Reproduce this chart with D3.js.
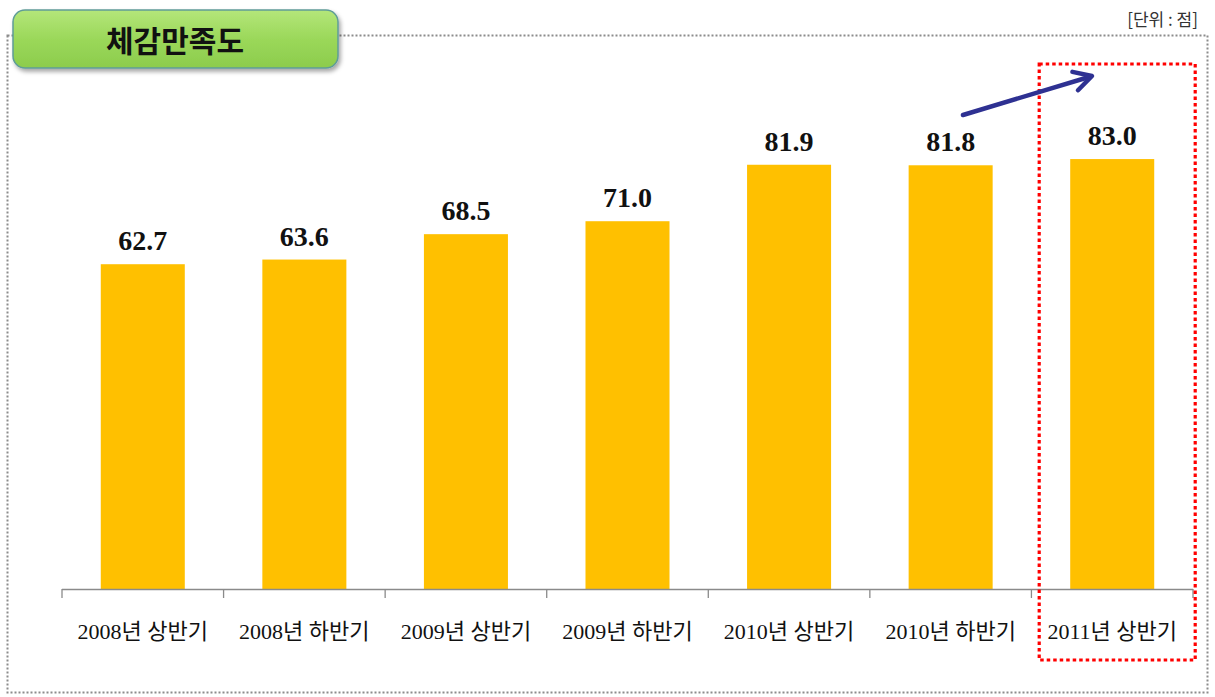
<!DOCTYPE html>
<html><head><meta charset="utf-8">
<script src="https://cdn.jsdelivr.net/npm/d3@7/dist/d3.min.js"></script>
<style>body{margin:0;background:#fff}svg{display:block}</style>
</head><body>
<svg id="c" width="1215" height="697"></svg>
<script>
const categories = ["2008년 상반기","2008년 하반기","2009년 상반기","2009년 하반기","2010년 상반기","2010년 하반기","2011년 상반기"];
const values = [62.7, 63.6, 68.5, 71.0, 81.9, 81.8, 83.0];
const valueLabels = ["62.7","63.6","68.5","71.0","81.9","81.8","83.0"];
const title = "체감만족도";
const unitLabel = "[단위 : 점]";
const highlightIndex = 6;

const svg = d3.select("#c");
const plotBottom = 589;

const defs = svg.append("defs");
const g1 = defs.append("linearGradient").attr("id","tg").attr("x1",0).attr("x2",0).attr("y1",0).attr("y2",1);
g1.append("stop").attr("offset","0%").attr("stop-color","#b4e67a");
g1.append("stop").attr("offset","50%").attr("stop-color","#9bd85a");
g1.append("stop").attr("offset","100%").attr("stop-color","#8ccc4c");
const f = defs.append("filter").attr("id","sh").attr("x","-10%").attr("y","-20%").attr("width","130%").attr("height","160%");
f.append("feDropShadow").attr("dx",2).attr("dy",3).attr("stdDeviation",2).attr("flood-color","#000").attr("flood-opacity",0.35);

// outer dotted frame
svg.append("rect").attr("x",7.5).attr("y",35.5).attr("width",1200).attr("height",657)
  .attr("fill","none").attr("stroke","#8c8c8c").attr("stroke-width",2).attr("stroke-dasharray","2 2");

// title box
svg.append("rect").attr("x",13).attr("y",10).attr("width",325).attr("height",58).attr("rx",12)
  .attr("fill","url(#tg)").attr("stroke","#5f9c98").attr("stroke-width",1.5).attr("filter","url(#sh)");
svg.append("text").attr("x",175).attr("y",52).attr("text-anchor","middle")
  .attr("font-family","'Noto Sans CJK KR', sans-serif").attr("font-weight","bold").attr("font-size",30)
  .attr("fill","#111").text(title);

svg.append("text").attr("x",1198).attr("y",26).attr("text-anchor","end")
  .attr("font-family","'Noto Sans CJK KR', sans-serif").attr("font-size",17).attr("fill","#333").text(unitLabel);

const x = d3.scaleBand().domain(categories).range([62, 1193]).paddingInner(0.48).paddingOuter(0.24);
const y = d3.scaleLinear().domain([0, 100]).range([plotBottom, 71]);

svg.selectAll("rect.bar").data(values).join("rect").attr("class","bar")
  .attr("x",(d,i)=>x(categories[i])).attr("width",x.bandwidth())
  .attr("y",d=>y(d)).attr("height",d=>plotBottom-y(d)).attr("fill","#FFC000");

svg.selectAll("text.val").data(values).join("text").attr("class","val")
  .attr("x",(d,i)=>x(categories[i])+x.bandwidth()/2).attr("y",d=>y(d)-14)
  .attr("text-anchor","middle").attr("font-family","'Liberation Serif', serif").attr("font-weight","bold")
  .attr("font-size",28).attr("fill","#111").text((d,i)=>valueLabels[i]);

// axis
const step = (1193-62)/categories.length;
const ax = svg.append("g");
ax.append("line").attr("x1",62).attr("x2",1193).attr("y1",plotBottom+0.5).attr("y2",plotBottom+0.5).attr("stroke","#8a8a8a").attr("stroke-width",1.3);
d3.range(categories.length+1).forEach(i=>{
  ax.append("line").attr("x1",62+i*step).attr("x2",62+i*step).attr("y1",plotBottom).attr("y2",plotBottom+9).attr("stroke","#8a8a8a").attr("stroke-width",1.3);
});
svg.selectAll("text.cat").data(categories).join("text").attr("class","cat")
  .attr("x",d=>x(d)+x.bandwidth()/2).attr("y",639).attr("text-anchor","middle")
  .attr("font-family","'Liberation Serif', 'Noto Sans CJK KR', serif").attr("font-size",22).attr("fill","#111")
  .text(d=>d);

// highlight
const hx = x(categories[highlightIndex]);
svg.append("rect").attr("x",hx-31).attr("y",64).attr("width",156).attr("height",596)
  .attr("fill","none").attr("stroke","#ff0000").attr("stroke-width",3.2).attr("stroke-dasharray","3.5 3");

// arrow
const ax1 = 963, ay1 = 115, ax2 = 1092, ay2 = 76;
svg.append("line").attr("x1",ax1).attr("y1",ay1).attr("x2",ax2-3).attr("y2",ay2+1).attr("stroke","#2e3192").attr("stroke-width",4.5).attr("stroke-linecap","round");
const ang = Math.atan2(ay2-ay1, ax2-ax1);
const L = 20, sp = 0.5;
const p1 = [ax2 - L*Math.cos(ang-sp), ay2 - L*Math.sin(ang-sp)];
const p2 = [ax2 - L*Math.cos(ang+sp), ay2 - L*Math.sin(ang+sp)];
svg.append("path").attr("d",`M${p1[0]},${p1[1]}L${ax2},${ay2}L${p2[0]},${p2[1]}`)
  .attr("fill","none").attr("stroke","#2e3192").attr("stroke-width",4.5).attr("stroke-linecap","round").attr("stroke-linejoin","round");
</script>
</body></html>
